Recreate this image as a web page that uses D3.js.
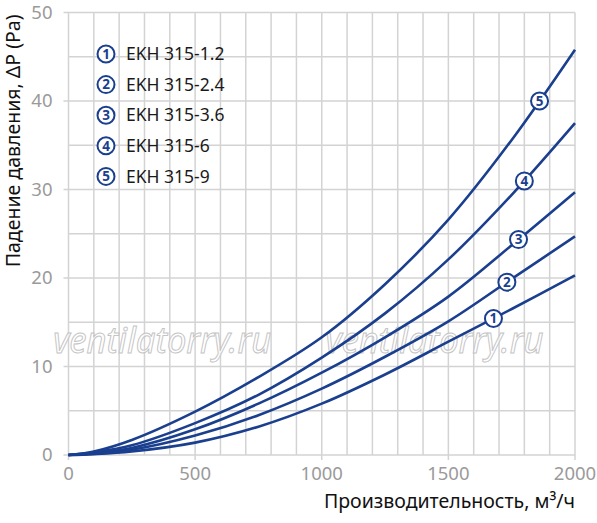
<!DOCTYPE html>
<html>
<head>
<meta charset="utf-8">
<script src="https://cdn.jsdelivr.net/npm/d3@7"></script>
<style>
  body { margin: 0; background: #fff; }
  text { font-family: "Noto Sans", "Open Sans", sans-serif; }
</style>
</head>
<body>
<div id="chart"></div>
<script>
const width = 597;
const height = 523;
const margin = { top: 12.5, right: 22, bottom: 68, left: 68.5 };
// colors
const color_line = "#1b3f8f";
const color_grid = "#d3d3d3";
const color_tick = "#9a9a9a";

// data: flow (m3/h) -> pressure drop (Pa)
const flow = [0, 100, 250, 500, 750, 1000, 1250, 1500, 1750, 2000];
const ekh_1_2 = [0, 0.1, 0.4, 1.4, 3.2, 5.8, 9.1, 12.8, 16.5, 20.3];
const ekh_2_4 = [0, 0.15, 0.6, 2.2, 4.5, 7.5, 11.1, 15.1, 19.9, 24.7];
const ekh_3_6 = [0, 0.2, 0.8, 2.9, 5.8, 9.3, 13.3, 17.9, 23.7, 29.7];
const ekh_6 = [0, 0.3, 1.1, 3.6, 6.8, 11.0, 16.0, 22.1, 29.4, 37.5];
const ekh_9 = [0, 0.4, 1.7, 4.9, 8.8, 13.3, 19.3, 26.6, 35.6, 45.8];
const series_names = ["EKH 315-1.2", "EKH 315-2.4", "EKH 315-3.6", "EKH 315-6", "EKH 315-9"];
const series_values = [ekh_1_2, ekh_2_4, ekh_3_6, ekh_6, ekh_9];
// flow where the number badge sits on each curve
const label_flow = [1678, 1731, 1777, 1800, 1860];
const x_ticks = [0, 500, 1000, 1500, 2000];
const y_ticks = [0, 10, 20, 30, 40, 50];
const x_grid = d3.range(0, 2001, 100);
const y_grid = d3.range(0, 51, 5);

let svg = d3
  .select("#chart")
  .append("svg")
  .attr("width", width)
  .attr("height", height);

let x = d3.scaleLinear().domain([0, 2000]).range([margin.left, width - margin.right]);
let y = d3.scaleLinear().domain([0, 50]).range([height - margin.bottom, margin.top]);

// grid
svg
  .append("g")
  .selectAll("line")
  .data(x_grid)
  .enter()
  .append("line")
  .attr("x1", (d) => x(d))
  .attr("x2", (d) => x(d))
  .attr("y1", y(50))
  .attr("y2", (d) => (x_ticks.includes(d) ? y(0) + 5 : y(0)))
  .attr("stroke", color_grid)
  .attr("stroke-width", 1.5);
svg
  .append("g")
  .selectAll("line")
  .data(y_grid)
  .enter()
  .append("line")
  .attr("x1", (d) => (y_ticks.includes(d) ? x(0) - 5 : x(0)))
  .attr("x2", x(2000))
  .attr("y1", (d) => y(d))
  .attr("y2", (d) => y(d))
  .attr("stroke", color_grid)
  .attr("stroke-width", 1.5);

// tick labels
svg
  .append("g")
  .selectAll("text")
  .data(x_ticks)
  .enter()
  .append("text")
  .attr("x", (d) => x(d))
  .attr("y", y(0) + 25)
  .attr("text-anchor", "middle")
  .attr("font-size", 18.5)
  .attr("fill", color_tick)
  .text((d) => d);
svg
  .append("g")
  .selectAll("text")
  .data(y_ticks)
  .enter()
  .append("text")
  .attr("x", x(0) - 16)
  .attr("y", (d) => y(d))
  .attr("dy", "0.35em")
  .attr("text-anchor", "end")
  .attr("font-size", 18.5)
  .attr("fill", color_tick)
  .text((d) => d);

// axis titles
svg
  .append("text")
  .attr("x", x(2000))
  .attr("y", height - 15)
  .attr("text-anchor", "end")
  .attr("font-size", 19.5)
  .attr("fill", "#111")
  .text("Производительность, м³/ч");
svg
  .append("text")
  .attr("transform", `translate(20, ${y(35.5)}) rotate(-90)`)
  .attr("text-anchor", "middle")
  .attr("font-size", 19.5)
  .attr("fill", "#111")
  .text("Падение давления, ΔP (Pa)");

// watermark
[370, 1445].forEach(function (q) {
  svg
    .append("text")
    .attr("x", x(q))
    .attr("y", y(11.5))
    .attr("text-anchor", "middle")
    .attr("font-family", "Liberation Sans, Arial, sans-serif")
    .attr("font-style", "italic")
    .attr("font-size", 36)
    .attr("textLength", 218)
    .attr("lengthAdjust", "spacingAndGlyphs")
    .attr("fill", "#fff")
    .attr("fill-opacity", 0.7)
    .attr("stroke", "#c4c4c4")
    .attr("stroke-width", 1)
    .text("ventilatorry.ru");
});

// curves
let line = d3
  .line()
  .x((d) => x(d[0]))
  .y((d) => y(d[1]))
  .curve(d3.curveCatmullRom.alpha(0.5));

let paths = svg
  .append("g")
  .selectAll("path")
  .data(series_values)
  .enter()
  .append("path")
  .attr("d", (vals) => line(flow.map((q, i) => [q, vals[i]])))
  .attr("fill", "none")
  .attr("stroke", color_line)
  .attr("stroke-width", 2.6);

// find the point of a path at a given x
function pointAtX(node, px) {
  let lo = 0;
  let hi = node.getTotalLength();
  for (let k = 0; k < 40; k++) {
    let mid = (lo + hi) / 2;
    if (node.getPointAtLength(mid).x < px) lo = mid;
    else hi = mid;
  }
  return node.getPointAtLength(lo);
}

function badge(g, cx, cy, n) {
  g.append("circle")
    .attr("cx", cx)
    .attr("cy", cy)
    .attr("r", 8.5)
    .attr("fill", "#fff")
    .attr("stroke", color_line)
    .attr("stroke-width", 2);
  g.append("text")
    .attr("x", cx)
    .attr("y", cy)
    .attr("dy", "0.36em")
    .attr("text-anchor", "middle")
    .attr("font-size", 13.5)
    .attr("font-weight", "bold")
    .attr("fill", color_line)
    .text(n);
}

let badges = svg.append("g");
paths.each(function (vals, i) {
  let p = pointAtX(this, x(label_flow[i]));
  badge(badges, p.x, p.y, i + 1);
});

// legend
let legend = svg.append("g");
series_names.forEach(function (name, i) {
  let ly = 54 + i * 30.6;
  badge(legend, 106, ly, i + 1);
  legend
    .append("text")
    .attr("x", 126)
    .attr("y", ly)
    .attr("dy", "0.35em")
    .attr("font-size", 17.5)
    .attr("fill", "#1a1a1a")
    .text(name);
});
</script>
</body>
</html>
